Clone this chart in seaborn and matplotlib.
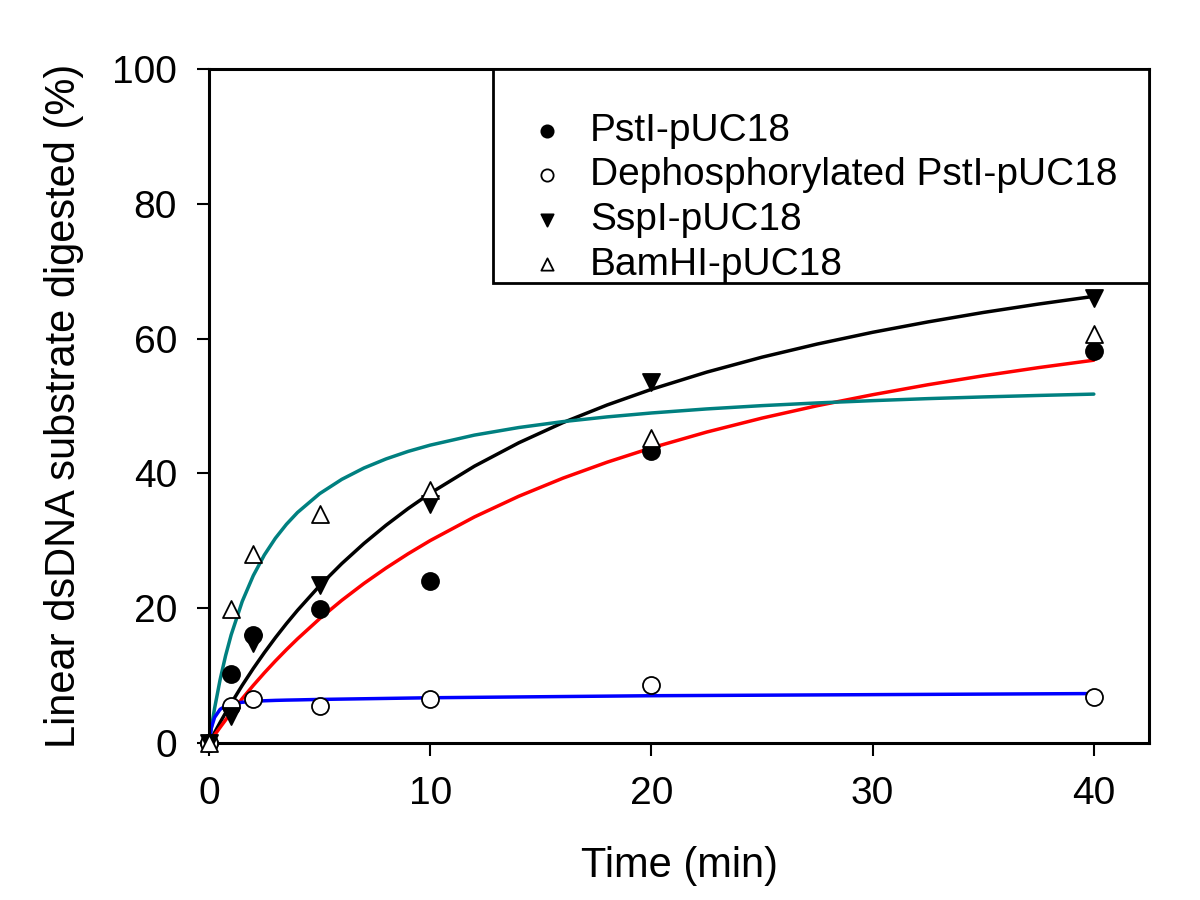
import matplotlib
matplotlib.use("Agg")
import matplotlib.pyplot as plt
from matplotlib.patches import Rectangle
import seaborn as sns

sns.set_theme(style="ticks")
plt.rcParams['font.family'] = ['Liberation Sans', 'DejaVu Sans']
plt.rcParams['text.color'] = 'black'
plt.rcParams['axes.labelcolor'] = 'black'

# measured data
time_pts = [0, 1, 2, 5, 10, 20, 40]
psti = [0, 10.3, 16.0, 19.9, 24.1, 43.4, 58.2]
dephos = [0, 5.5, 6.6, 5.5, 6.5, 8.6, 6.8]
sspi = [0, 4.0, 14.9, 23.5, 35.5, 53.5, 66.1]
bamhi = [0, 19.9, 28.1, 34.0, 37.6, 45.2, 60.7]

# fitted curves
curve_x = [0, 0.1, 0.25, 0.5, 0.75, 1, 1.5, 2, 2.5, 3, 3.5, 4, 5, 6, 7, 8, 9, 10,
           12, 14, 16, 18, 20, 22.5, 25, 27.5, 30, 32.5, 35, 37.5, 40]
curve_sspi = [0, 0.63, 1.55, 3.05, 4.49, 5.89, 8.56, 11.06, 13.41, 15.63, 17.72, 19.69,
              23.34, 26.62, 29.60, 32.31, 34.79, 37.06, 41.08, 44.54, 47.54, 50.16,
              52.48, 55.03, 57.25, 59.20, 60.94, 62.48, 63.88, 65.13, 66.27]
curve_psti = [0, 0.48, 1.18, 2.32, 3.43, 4.51, 6.59, 8.55, 10.41, 12.18, 13.86, 15.46,
              18.45, 21.17, 23.67, 25.96, 28.08, 30.04, 33.55, 36.61, 39.30, 41.67,
              43.79, 46.14, 48.21, 50.05, 51.68, 53.16, 54.49, 55.70, 56.80]
curve_bamhi = [0, 2.18, 5.14, 9.40, 12.99, 16.05, 21.01, 24.84, 27.90, 30.39, 32.46, 34.21,
               37.00, 39.12, 40.80, 42.15, 43.27, 44.20, 45.69, 46.81, 47.69, 48.39,
               48.97, 49.57, 50.06, 50.46, 50.80, 51.10, 51.35, 51.57, 51.77]
curve_dephos = [0, 2.2, 3.8, 5.0, 5.5, 5.8, 6.05, 6.2, 6.27, 6.33, 6.37, 6.4,
                6.47, 6.52, 6.57, 6.62, 6.67, 6.72, 6.78, 6.84, 6.9, 6.96,
                7.02, 7.06, 7.1, 7.14, 7.18, 7.22, 7.26, 7.3, 7.34]

labels = ["PstI-pUC18", "Dephosphorylated PstI-pUC18", "SspI-pUC18", "BamHI-pUC18"]

fig = plt.figure(figsize=(12, 9), dpi=100)
ax = fig.add_axes([0.1742, 0.1744, 0.7834, 0.7489])

# curves
for cy, col in [(curve_sspi, "black"), (curve_psti, "#ff0000"),
                (curve_bamhi, "#008080"), (curve_dephos, "#0000ff")]:
    sns.lineplot(x=curve_x, y=cy, color=col, linewidth=2.5, ax=ax, legend=False,
                 sort=False, estimator=None)

# markers
series = [
    (psti, "o", "black", 150),
    (dephos, "o", "white", 150),
    (sspi, "v", "black", 150),
    (bamhi, "^", "white", 150),
]
for (vals, mk, fc, s), lab in zip(series, labels):
    sns.scatterplot(x=time_pts, y=vals, marker=mk, color=fc, edgecolor="black",
                    linewidth=1.3, s=s, ax=ax, label=lab, clip_on=False, zorder=5)

ax.set_xlim(0, 42.5)
ax.set_ylim(0, 100)
ax.set_xticks([0, 10, 20, 30, 40])
ax.set_yticks([0, 20, 40, 60, 80, 100])
ax.tick_params(axis="both", direction="out", length=9, width=1.5, labelsize=28,
               colors="black")
ax.tick_params(axis="x", pad=15)
ax.tick_params(axis="y", pad=14)
for sp in ax.spines.values():
    sp.set_visible(True)
    sp.set_color("black")
    sp.set_linewidth(2.2)
ax.set_xlabel("Time (min)", fontsize=30, labelpad=24, color="black")
ax.set_ylabel("Linear dsDNA substrate digested (%)", fontsize=30, labelpad=20,
              color="black")

# legend box frame
ax.add_patch(Rectangle((0.302, 0.682), 0.698, 0.318, transform=ax.transAxes,
                       facecolor="white", edgecolor="black", linewidth=2.0,
                       zorder=6, clip_on=False))
leg = ax.legend(loc="upper left", bbox_to_anchor=(0.339, 0.935), fontsize=28,
                frameon=False, markerscale=0.72, handletextpad=0.6,
                labelspacing=0.22, borderpad=0, borderaxespad=0, handlelength=1.0)
leg.set_zorder(7)
for t in leg.get_texts():
    t.set_color("black")

fig.savefig("out.png", dpi=100)
